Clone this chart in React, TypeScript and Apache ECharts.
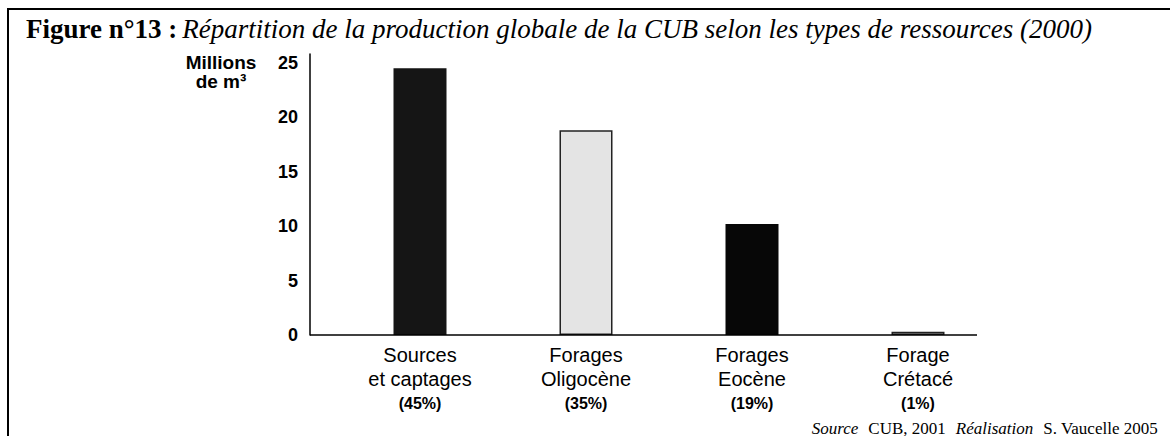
import React, { useEffect, useRef } from "react";
import * as echarts from "echarts";

const categories = ["Sources\net captages", "Forages\nOligocène", "Forages\nEocène", "Forage\nCrétacé"];
const shares = ["(45%)", "(35%)", "(19%)", "(1%)"];
const values = [24.5, 18.8, 10.2, 0.3];
const yTicks = [0, 5, 10, 15, 20, 25];

const barFill = ["#151515", "#e4e4e4", "#070707", "#ffffff"];
const barBorder = ["#151515", "#222222", "#070707", "#222222"];

export default function App() {
  const ref = useRef<HTMLDivElement>(null);
  useEffect(() => {
    document.body.style.margin = "0";
    const chart = echarts.init(ref.current!, null, { renderer: "svg" });
    const gridLeft = 337, gridTop = 54, gridW = 664, gridH = 281;
    const baseY = gridTop + gridH;
    chart.setOption({
      animation: false,
      backgroundColor: "#ffffff",
      title: [
        {
          text: "{b|Figure n°13 :} {i|Répartition de la production globale de la CUB selon les types de ressources (2000)}",
          left: 21,
          top: 10,
          textStyle: {
            rich: {
              b: { fontFamily: "Liberation Serif", fontWeight: "bold", fontSize: 27, color: "#000" },
              i: { fontFamily: "Liberation Serif", fontStyle: "italic", fontWeight: "normal", fontSize: 27, color: "#000" },
            },
          },
        },
        {
          text: "Millions\nde m³",
          left: 216,
          top: 48,
          textAlign: "center",
          textStyle: { fontFamily: "Liberation Sans", fontWeight: "bold", fontSize: 19, lineHeight: 19, color: "#000", align: "center" },
        },
        {
          text: "{i|Source}  {r|CUB, 2001}  {i|Réalisation}  {r|S. Vaucelle 2005}",
          right: 7,
          top: 414,
          textStyle: {
            rich: {
              i: { fontFamily: "Liberation Serif", fontStyle: "italic", fontWeight: "normal", fontSize: 17, color: "#000" },
              r: { fontFamily: "Liberation Serif", fontWeight: "normal", fontSize: 17, color: "#000" },
            },
          },
        },
      ],
      grid: { left: gridLeft, top: gridTop, width: gridW, height: gridH },
      xAxis: {
        type: "category",
        data: categories.map((c, i) => c + "\n" + shares[i]),
        axisLine: { show: false },
        axisTick: { show: false },
        axisLabel: {
          margin: 8,
          interval: 0,
          formatter: (v: string) => {
            const parts = v.split("\n");
            return `{n|${parts[0]}}\n{n|${parts[1]}}\n{p|${parts[2]}}`;
          },
          rich: {
            n: { fontFamily: "Liberation Sans", fontSize: 20, lineHeight: 24, color: "#000", align: "center" },
            p: { fontFamily: "Liberation Sans", fontWeight: "bold", fontSize: 16, lineHeight: 24, color: "#000", align: "center" },
          },
        },
      },
      yAxis: {
        type: "value",
        min: 0,
        max: 25.8,
        interval: 5,
        offset: 27,
        axisLine: { show: true, lineStyle: { color: "#000", width: 1.5 } },
        axisTick: { show: false },
        splitLine: { show: false },
        axisLabel: {
          margin: 12,
          fontFamily: "Liberation Sans",
          fontWeight: "bold",
          fontSize: 18,
          color: "#000",
          formatter: (v: number) => (yTicks.includes(v) ? String(v) : ""),
        },
      },
      series: [
        {
          type: "bar",
          barWidth: 53,
          data: values.map((v, i) => ({
            value: v,
            itemStyle: { color: barFill[i], borderColor: barBorder[i], borderWidth: 1.5 },
          })),
        },
      ],
      graphic: [
        { type: "line", shape: { x1: 8, y1: 9, x2: 1170, y2: 9 }, style: { stroke: "#000", lineWidth: 2 } },
        { type: "line", shape: { x1: 8, y1: 8, x2: 8, y2: 436 }, style: { stroke: "#000", lineWidth: 2 } },
        { type: "line", shape: { x1: 310, y1: baseY, x2: 977, y2: baseY }, style: { stroke: "#000", lineWidth: 1.5 }, z: 10 },
      ],
    });
    return () => chart.dispose();
  }, []);
  return <div ref={ref} style={{ width: 1170, height: 436 }} />;
}
